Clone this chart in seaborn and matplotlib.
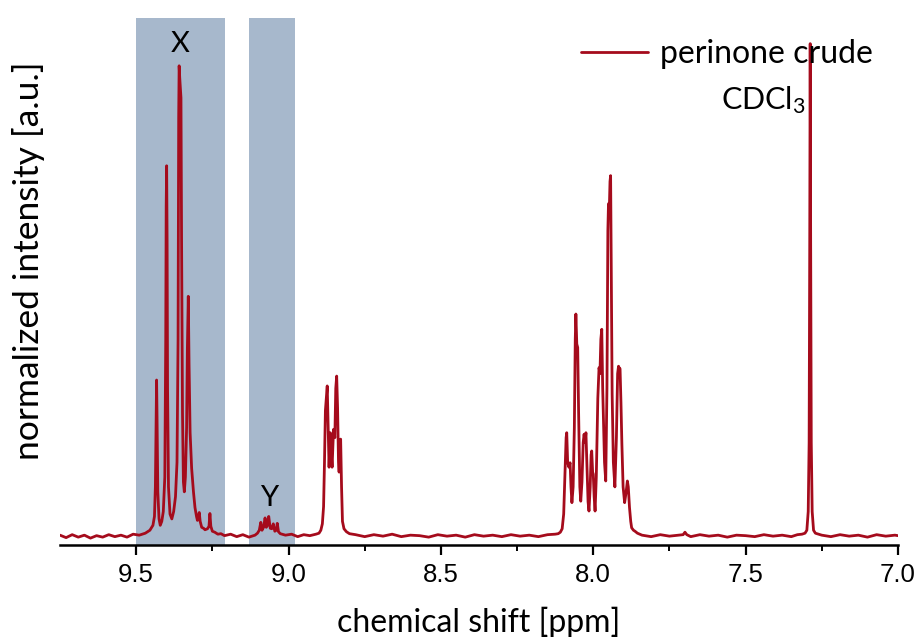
import matplotlib
matplotlib.use("Agg")
import matplotlib.pyplot as plt
import seaborn as sns
import pandas as pd
import numpy as np

# ---- data (ppm, normalized intensity) ----
base1_ppm = [9.75, 9.73, 9.71, 9.69, 9.67, 9.65, 9.63, 9.61, 9.59, 9.57, 9.55, 9.53, 9.51, 9.49, 9.47]
base1_int = [0.002, -0.003, 0.003, -0.002, 0.002, -0.004, 0.001, -0.002, 0.003, -0.001, 0.002, -0.002, 0.004, 0.002, 0.006]

regionX_ppm = [9.455, 9.445, 9.440, 9.437, 9.4345, 9.433, 9.4315, 9.429, 9.425, 9.421, 9.416, 9.411, 9.406,
               9.403, 9.4015, 9.400, 9.3985, 9.397, 9.394, 9.389, 9.383, 9.377, 9.371, 9.366, 9.3625, 9.3605,
               9.359, 9.357, 9.353, 9.351, 9.348, 9.345, 9.342, 9.3385, 9.3345, 9.332, 9.329, 9.3265, 9.323,
               9.318, 9.312, 9.307, 9.302, 9.299, 9.296, 9.293, 9.290, 9.285, 9.279, 9.274, 9.266, 9.261,
               9.258, 9.255, 9.250, 9.242, 9.232, 9.222]
regionX_int = [0.012, 0.022, 0.04, 0.10, 0.24, 0.317, 0.24, 0.09, 0.035, 0.022, 0.03, 0.05, 0.12,
               0.40, 0.67, 0.752, 0.60, 0.30, 0.10, 0.045, 0.035, 0.05, 0.08, 0.15, 0.40, 0.85,
               0.955, 0.93, 0.89, 0.60, 0.25, 0.11, 0.09, 0.12, 0.22, 0.38, 0.487, 0.35, 0.21,
               0.138, 0.09, 0.058, 0.04, 0.032, 0.04, 0.048, 0.03, 0.018, 0.016, 0.013, 0.015, 0.02,
               0.046, 0.02, 0.01, 0.008, 0.004, 0.005]

base2_ppm = [9.21, 9.19, 9.17, 9.15, 9.13, 9.11, 9.102]
base2_int = [0.001, 0.004, -0.001, 0.003, -0.002, 0.002, 0.006]

regionY_ppm = [9.096, 9.091, 9.087, 9.082, 9.077, 9.073, 9.069, 9.065, 9.060, 9.055, 9.050, 9.045, 9.040, 9.037, 9.033, 9.027]
regionY_int = [0.012, 0.028, 0.012, 0.018, 0.037, 0.018, 0.022, 0.04, 0.016, 0.015, 0.025, 0.01, 0.012, 0.026, 0.009, 0.005]

base3_ppm = [9.01, 8.99, 8.97, 8.95, 8.93, 8.91, 8.90]
base3_int = [0.002, 0.004, -0.001, 0.003, 0.001, 0.004, 0.006]

region885_ppm = [8.894, 8.889, 8.885, 8.882, 8.879, 8.876, 8.873, 8.870, 8.867, 8.863, 8.860, 8.857, 8.854,
                 8.852, 8.848, 8.845, 8.842, 8.839, 8.836, 8.834, 8.831, 8.829, 8.826, 8.823, 8.818, 8.810, 8.800]
region885_int = [0.012, 0.025, 0.06, 0.15, 0.255, 0.28, 0.305, 0.22, 0.14, 0.21, 0.17, 0.14, 0.19,
                 0.217, 0.20, 0.30, 0.325, 0.26, 0.15, 0.13, 0.19, 0.197, 0.10, 0.03, 0.015, 0.009, 0.005]

base4_ppm = [8.78, 8.75, 8.72, 8.69, 8.66, 8.63, 8.60, 8.57, 8.54, 8.51, 8.48, 8.45, 8.42, 8.39, 8.36, 8.33,
             8.30, 8.27, 8.24, 8.21, 8.18, 8.15, 8.125]
base4_int = [0.003, -0.001, 0.003, 0.0, 0.004, -0.001, 0.002, 0.001, -0.002, 0.003, 0.0, 0.002, -0.002, 0.003,
             0.0, 0.002, -0.001, 0.003, 0.0, 0.002, -0.001, 0.003, 0.004]

region800_ppm = [8.115, 8.108, 8.102, 8.097, 8.093, 8.089, 8.087, 8.084, 8.080, 8.076, 8.073, 8.070, 8.066,
                 8.062, 8.059, 8.057, 8.054, 8.051, 8.048, 8.044, 8.041, 8.037, 8.033, 8.030, 8.027, 8.024,
                 8.020, 8.017, 8.014, 8.010, 8.007, 8.005, 8.002, 8.000, 7.997, 7.994, 7.990, 7.985, 7.981,
                 7.978, 7.975, 7.972, 7.969, 7.967, 7.963, 7.959, 7.955, 7.952, 7.950, 7.947, 7.945, 7.943,
                 7.941, 7.938, 7.934, 7.929, 7.924, 7.920, 7.917, 7.914, 7.912, 7.909, 7.906, 7.902, 7.897,
                 7.892, 7.888, 7.885, 7.881, 7.877, 7.874, 7.868, 7.863, 7.855]
region800_int = [0.005, 0.008, 0.015, 0.045, 0.12, 0.20, 0.21, 0.15, 0.14, 0.149, 0.10, 0.068, 0.10,
                 0.22, 0.40, 0.451, 0.39, 0.383, 0.25, 0.10, 0.071, 0.11, 0.19, 0.207, 0.19, 0.21,
                 0.13, 0.07, 0.051, 0.10, 0.165, 0.173, 0.13, 0.126, 0.08, 0.051, 0.12, 0.28, 0.342,
                 0.33, 0.40, 0.42, 0.30, 0.247, 0.15, 0.112, 0.30, 0.62, 0.675, 0.67, 0.72, 0.732,
                 0.55, 0.289, 0.15, 0.10, 0.20, 0.33, 0.345, 0.34, 0.34, 0.27, 0.187, 0.10, 0.068,
                 0.09, 0.112, 0.10, 0.058, 0.03, 0.017, 0.012, 0.01, 0.006]

base5_ppm = [7.84, 7.81, 7.78, 7.75, 7.72, 7.705, 7.699, 7.693, 7.68, 7.65, 7.62, 7.59, 7.56, 7.53, 7.50,
             7.47, 7.44, 7.41, 7.38, 7.35, 7.33, 7.315]
base5_int = [0.002, -0.001, 0.003, 0.0, 0.002, 0.003, 0.008, 0.003, -0.001, 0.003, 0.0, 0.002, -0.002, 0.002,
             0.001, -0.001, 0.003, 0.0, 0.002, -0.001, 0.003, 0.004]

cdcl3_ppm = [7.305, 7.299, 7.2945, 7.2915, 7.2895, 7.288, 7.2865, 7.2845, 7.2815, 7.277, 7.271]
cdcl3_int = [0.006, 0.012, 0.05, 0.19, 0.60, 1.0, 0.60, 0.19, 0.05, 0.012, 0.006]

base6_ppm = [7.25, 7.22, 7.19, 7.16, 7.13, 7.10, 7.07, 7.04, 7.01, 7.0]
base6_int = [0.002, -0.001, 0.003, 0.0, 0.002, -0.002, 0.003, 0.0, 0.002, 0.001]

shade_regions = [(9.50, 9.21), (9.13, 8.98)]
x_ticks = [9.5, 9.0, 8.5, 8.0, 7.5, 7.0]

shift = (base1_ppm + regionX_ppm + base2_ppm + regionY_ppm + base3_ppm + region885_ppm +
         base4_ppm + region800_ppm + base5_ppm + cdcl3_ppm + base6_ppm)
inten = (base1_int + regionX_int + base2_int + regionY_int + base3_int + region885_int +
         base4_int + region800_int + base5_int + cdcl3_int + base6_int)
df = pd.DataFrame({"shift": shift, "intensity": inten})

# ---- style ----
sns.set_theme(style="white")
plt.rcParams["font.family"] = ["Lato", "DejaVu Sans"]
plt.rcParams["mathtext.default"] = "regular"
plt.rcParams["text.color"] = "black"
plt.rcParams["axes.labelcolor"] = "black"
plt.rcParams["xtick.color"] = "black"

line_color = "#A50B1C"
shade_color = "#A7B8CC"

fig = plt.figure(figsize=(9.16, 6.37), dpi=100)
ax = fig.add_axes([0.0655, 0.1444, 0.9148, 0.8273])

for lo, hi in shade_regions:
    ax.axvspan(hi, lo, color=shade_color, lw=0, zorder=0)

sns.lineplot(data=df, x="shift", y="intensity", sort=False, estimator=None,
             color=line_color, linewidth=2.0, ax=ax, label="perinone crude", zorder=3)

ax.set_xlim(9.75, 7.0)
ax.set_ylim(-0.018, 1.052)
ax.set_xticks(x_ticks)
ax.set_xticklabels([f"{t:.1f}" for t in x_ticks], fontfamily="Liberation Sans", fontsize=18.5)
ax.set_xticks([9.25, 8.75, 8.25, 7.75, 7.25], minor=True)
ax.tick_params(axis="x", which="major", direction="out", length=7, width=1.6, colors="black",
               bottom=True, pad=6)
ax.tick_params(axis="x", which="minor", direction="out", length=4.5, width=1.4, colors="black",
               bottom=True)
ax.set_yticks([])
for s in ["top", "right", "left"]:
    ax.spines[s].set_visible(False)
ax.spines["bottom"].set_linewidth(1.8)
ax.spines["bottom"].set_color("black")

ax.set_xlabel("chemical shift [ppm]", fontsize=23, labelpad=14, color="black")
ax.set_ylabel("normalized intensity [a.u.]", fontsize=25.5, color="black")
ax.yaxis.set_label_coords(-0.018, 0.54)

ax.text(9.355, 1.0, "X", fontsize=21, ha="center", va="center", color="black")
ax.text(9.063, 0.078, "Y", fontsize=21, ha="center", va="center", color="black")
ax.text(7.443, 0.885, r"CDCl$_3$", fontsize=22, ha="center", va="center", color="black")

leg = ax.legend(loc="upper right", frameon=False, fontsize=23, handlelength=2.1,
                handletextpad=0.37, borderaxespad=0.0, bbox_to_anchor=(0.985, 0.985))
for t in leg.get_texts():
    t.set_color("black")

fig.savefig("out.png", dpi=100)
